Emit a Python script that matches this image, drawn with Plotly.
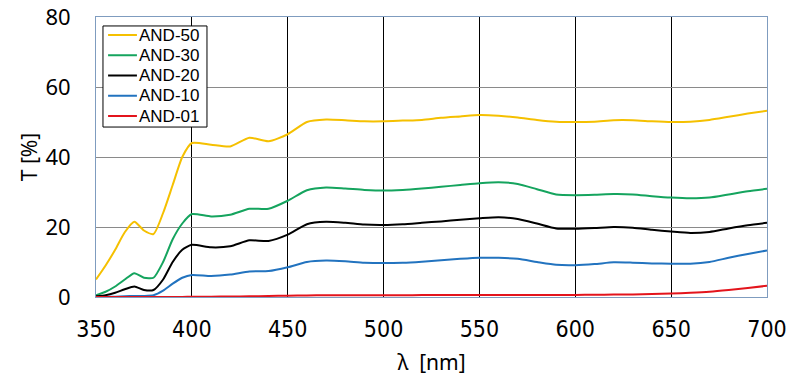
import plotly.graph_objects as go

wavelength = [350, 355, 360, 365, 370, 375, 380, 385, 390, 395, 400, 410, 420, 430, 440, 450,
              460, 470, 480, 490, 500, 510, 520, 530, 540, 550, 560, 570, 580, 590, 600,
              610, 620, 630, 640, 650, 660, 670, 680, 690, 700]

and_50 = [5, 9, 13.5, 18.5, 21.5, 19, 18, 24, 32, 40, 44, 43.5, 43, 45.5, 44.5, 46.5,
          50, 50.7, 50.5, 50.2, 50.2, 50.4, 50.6, 51.2, 51.6, 52, 51.8, 51.3, 50.6, 50.1, 50,
          50.1, 50.5, 50.5, 50.2, 50, 50.1, 50.6, 51.5, 52.4, 53.2]
and_30 = [0.5, 1.5, 3, 5, 6.8, 5.5, 5.5, 10, 16.5, 21, 23.7, 23, 23.5, 25.2, 25.2, 27.5,
          30.5, 31.3, 31, 30.6, 30.4, 30.6, 31, 31.5, 32, 32.5, 32.8, 32.3, 30.8, 29.3, 29.1,
          29.2, 29.4, 29.3, 28.8, 28.4, 28.2, 28.4, 29.3, 30.2, 30.9]
and_20 = [0.2, 0.5, 1.2, 2.2, 3, 2, 2, 5, 10, 13.5, 14.9, 14.2, 14.5, 16.2, 16, 17.8,
          20.8, 21.5, 21.2, 20.7, 20.6, 20.8, 21.2, 21.6, 22.1, 22.5, 22.8, 22.3, 21, 19.6, 19.5,
          19.7, 20, 19.8, 19.2, 18.7, 18.3, 18.6, 19.6, 20.5, 21.2]
and_10 = [0, 0, 0.1, 0.2, 0.3, 0.3, 0.5, 1.8, 3.8, 5.5, 6.3, 6, 6.4, 7.3, 7.4, 8.5,
          10, 10.4, 10.2, 9.8, 9.7, 9.8, 10.1, 10.5, 10.9, 11.2, 11.2, 10.9, 10, 9.2, 9.1,
          9.4, 9.9, 9.8, 9.6, 9.5, 9.5, 10, 11.2, 12.3, 13.3]
and_01 = [0, 0, 0, 0, 0, 0, 0, 0, 0.02, 0.03, 0.05, 0.1, 0.15, 0.2, 0.3, 0.35,
          0.45, 0.5, 0.5, 0.5, 0.5, 0.52, 0.55, 0.57, 0.6, 0.6, 0.6, 0.6, 0.6, 0.6, 0.6,
          0.65, 0.7, 0.75, 0.85, 1, 1.2, 1.5, 2, 2.6, 3.2]

series_names = ["AND-50", "AND-30", "AND-20", "AND-10", "AND-01"]
series_values = [and_50, and_30, and_20, and_10, and_01]
series_colors = ["#f5c000", "#15a45e", "#000000", "#2273bf", "#e3141c"]

x_ticks = [350, 400, 450, 500, 550, 600, 650, 700]
y_ticks = [0, 20, 40, 60, 80]

fig = go.Figure()
for name, vals, col in zip(series_names, series_values, series_colors):
    fig.add_trace(go.Scatter(x=wavelength, y=vals, name=name, mode="lines", showlegend=False,
                             line=dict(color=col, width=2, shape="spline", smoothing=0.6)))

# legend drawn as a boxed list (paper coordinates of the plot area)
plot_h = 280.0
row0 = 18.0 / plot_h      # first row offset from top of plot area
row_step = 20.25 / plot_h
leg_shapes = [dict(type="rect", xref="paper", yref="paper",
                   x0=0.0104, x1=0.1654, y0=0.607, y1=0.968,
                   line=dict(color="black", width=1), fillcolor="white", layer="above")]
leg_annots = []
for i, (name, col) in enumerate(zip(series_names, series_colors)):
    yy = 1 - row0 - i * row_step
    leg_shapes.append(dict(type="line", xref="paper", yref="paper",
                           x0=0.018, x1=0.061, y0=yy, y1=yy,
                           line=dict(color=col, width=2), layer="above"))
    leg_annots.append(dict(xref="paper", yref="paper", x=0.0615, y=yy,
                           xanchor="left", yanchor="middle", showarrow=False,
                           text=name, font=dict(family="Liberation Sans, Arial, sans-serif",
                                                size=17, color="black")))

fig.update_layout(
    width=799, height=380,
    margin=dict(l=96, r=32, t=17, b=83, pad=0, autoexpand=False),
    paper_bgcolor="white", plot_bgcolor="white",
    shapes=leg_shapes, annotations=leg_annots,
    font=dict(family="Noto Sans, sans-serif", color="black"),
)
fig.update_xaxes(range=[350, 700], tickvals=x_ticks, automargin=True,
                 ticklabeloverflow="allow",
                 ticks="outside", ticklen=11, tickcolor="rgba(0,0,0,0)",
                 showgrid=True, gridcolor="black", gridwidth=1,
                 showline=True, linecolor="#7f9cbf", linewidth=1, mirror=True,
                 zeroline=False,
                 tickfont=dict(family="DejaVu Sans Condensed, DejaVu Sans, sans-serif", size=23, color="black"),
                 title=dict(text="λ  [nm]", font=dict(family="Noto Sans, sans-serif", size=21), standoff=14))
fig.update_yaxes(range=[0, 80], tickvals=y_ticks, automargin=True,
                 ticklabeloverflow="allow",
                 ticks="outside", ticklen=20, tickcolor="rgba(0,0,0,0)",
                 showgrid=True, gridcolor="#8a8a8a", gridwidth=1,
                 showline=True, linecolor="#7f9cbf", linewidth=1, mirror=True,
                 zeroline=False,
                 tickfont=dict(family="Noto Sans, sans-serif", size=22, color="black"),
                 title=dict(text="T [%]", font=dict(family="Noto Sans, sans-serif", size=21), standoff=2))

fig.write_html("out.html", config={"displayModeBar": False},
               post_script="document.body.style.margin='0';")
